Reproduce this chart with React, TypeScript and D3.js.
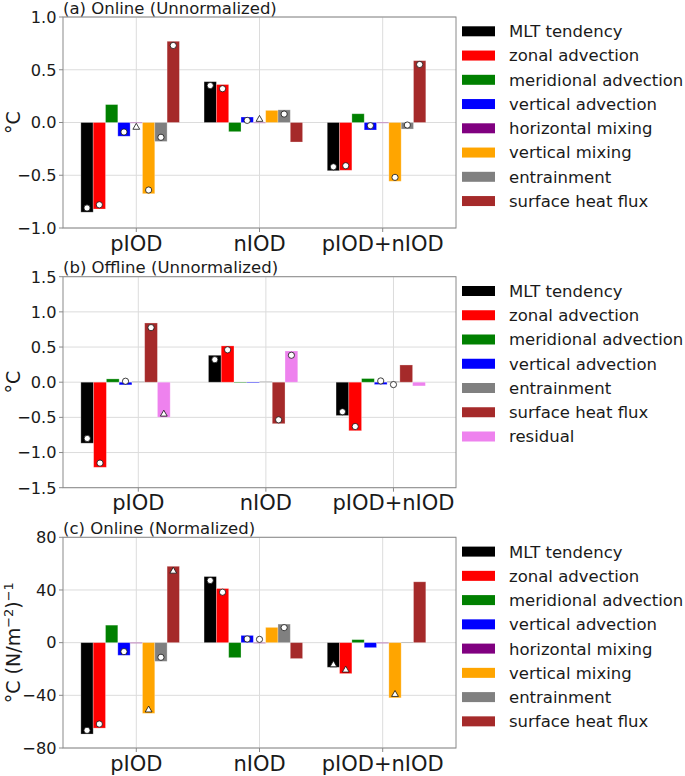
import React from "react";
import * as d3 from "d3";

const categories = ["pIOD", "nIOD", "pIOD+nIOD"];

const termsOnline = [
  "MLT tendency",
  "zonal advection",
  "meridional advection",
  "vertical advection",
  "horizontal mixing",
  "vertical mixing",
  "entrainment",
  "surface heat flux",
];
const colorsOnline = ["#000000", "#ff0000", "#008000", "#0000ff", "#800080", "#ffa500", "#808080", "#a52a2a"];

const termsOffline = [
  "MLT tendency",
  "zonal advection",
  "meridional advection",
  "vertical advection",
  "entrainment",
  "surface heat flux",
  "residual",
];
const colorsOffline = ["#000000", "#ff0000", "#008000", "#0000ff", "#808080", "#a52a2a", "#ee82ee"];

// Panel (a): Online (Unnormalized) — one row per term, values across categories
const valuesA = [
  [-0.85, 0.387, -0.457],
  [-0.82, 0.36, -0.453],
  [0.17, -0.087, 0.083],
  [-0.13, 0.052, -0.071],
  [0.0, 0.0, 0.0],
  [-0.675, 0.115, -0.557],
  [-0.18, 0.12, -0.062],
  [0.77, -0.185, 0.586],
];
const markerValuesA = [
  [-0.81, 0.35, -0.42],
  [-0.78, 0.32, -0.41],
  [null, null, null],
  [-0.09, 0.02, -0.03],
  [-0.04, 0.035, null],
  [-0.64, null, -0.52],
  [-0.14, 0.08, -0.024],
  [0.73, null, 0.55],
];
const markerKindsA = [
  ["o", "o", "o"],
  ["o", "o", "o"],
  ["", "", ""],
  ["o", "o", "o"],
  ["^", "^", ""],
  ["o", "", "o"],
  ["o", "o", "o"],
  ["o", "", "o"],
];

// Panel (b): Offline (Unnormalized)
const valuesB = [
  [-0.867, 0.383, -0.474],
  [-1.21, 0.516, -0.69],
  [0.047, -0.004, 0.052],
  [-0.038, 0.003, -0.033],
  [0.01, 0.01, 0.012],
  [0.842, -0.59, 0.245],
  [-0.497, 0.444, -0.053],
];
const markerValuesB = [
  [-0.8, 0.32, -0.42],
  [-1.15, 0.46, -0.63],
  [null, null, null],
  [0.014, null, 0.018],
  [null, null, -0.034],
  [0.776, -0.535, null],
  [-0.446, 0.383, null],
];
const markerKindsB = [
  ["o", "o", "o"],
  ["o", "o", "o"],
  ["", "", ""],
  ["o", "", "o"],
  ["", "", "o"],
  ["o", "o", ""],
  ["^", "o", ""],
];

// Panel (c): Online (Normalized)
const valuesC = [
  [-69.4, 50.2, -18.7],
  [-64.9, 41.1, -23.5],
  [13.3, -11.4, 2.3],
  [-9.6, 5.5, -3.8],
  [0.0, 0.0, 0.0],
  [-53.7, 11.6, -41.9],
  [-14.2, 14.1, 0.5],
  [58.0, -12.1, 46.2],
];
const markerValuesC = [
  [-66.6, 47.2, -16.4],
  [-61.8, 38.3, -20.4],
  [null, null, null],
  [-6.8, 2.8, null],
  [null, 2.5, null],
  [-50.7, null, -38.9],
  [-11.1, 11.4, null],
  [54.7, null, null],
];
const markerKindsC = [
  ["o", "o", "^"],
  ["o", "o", "^"],
  ["", "", ""],
  ["o", "o", ""],
  ["", "o", ""],
  ["^", "", "^"],
  ["o", "o", ""],
  ["^", "", ""],
];

const ticksA = [-1.0, -0.5, 0.0, 0.5, 1.0];
const ticksB = [-1.5, -1.0, -0.5, 0.0, 0.5, 1.0, 1.5];
const ticksC = [-80, -40, 0, 40, 80];

const FONT = "DejaVu Sans";
const AX_LEFT = 63;
const AX_RIGHT = 456;
const GRID = "#dcdcdc";
const SPINE = "#8a8a8a";
const TEXT = "#1a1a1a";

type PanelProps = {
  top: number;
  bottom: number;
  domain: [number, number];
  ticks: number[];
  fmt: (v: number) => string;
  terms: string[];
  colors: string[];
  values: number[][];
  markerValues: (number | null)[][];
  markerKinds: string[][];
  title: string;
  ylabel: React.ReactNode;
};

function Panel(p: PanelProps) {
  const n = p.terms.length;
  const width = 0.1;
  const dMin = -0.45;
  const dMax = 2 + (n - 4) * width + width / 2;
  const m = (dMax - dMin) * 0.05;
  const x = d3.scaleLinear().domain([dMin - m, dMax + m]).range([AX_LEFT, AX_RIGHT]);
  const y = d3.scaleLinear().domain(p.domain).range([p.bottom, p.top]);
  const midY = (p.top + p.bottom) / 2;

  const bars: React.ReactNode[] = [];
  const marks: React.ReactNode[] = [];
  p.values.forEach((row, k) => {
    row.forEach((v, ci) => {
      const cx = ci + (k - 4) * width;
      const x0 = x(cx - width / 2);
      const x1 = x(cx + width / 2);
      const y0 = y(Math.max(0, v));
      const y1 = y(Math.min(0, v));
      bars.push(
        <rect
          key={`b${k}-${ci}`}
          x={x0}
          y={y0}
          width={x1 - x0}
          height={Math.max(y1 - y0, 0.6)}
          fill={p.colors[k]}
          stroke="#ffffff"
          strokeOpacity={0.35}
          strokeWidth={0.8}
        />
      );
      const mv = p.markerValues[k][ci];
      const kind = p.markerKinds[k][ci];
      if (mv !== null && kind) {
        const mx = x(cx);
        const my = y(mv);
        if (kind === "o") {
          marks.push(
            <circle key={`m${k}-${ci}`} cx={mx} cy={my} r={3.1} fill="#fff" stroke="#111" strokeWidth={0.8} />
          );
        } else {
          const s = 3.4;
          marks.push(
            <path
              key={`m${k}-${ci}`}
              d={`M${mx},${my - s} L${mx + s},${my + s * 0.75} L${mx - s},${my + s * 0.75} Z`}
              fill="#fff"
              stroke="#111"
              strokeWidth={0.8}
            />
          );
        }
      }
    });
  });

  const legendX = 462;
  const legendY0 = p.top + 14.3;
  const legendStep = 24.25;

  return (
    <g>
      {p.ticks.map((t) => (
        <line key={`gy${t}`} x1={AX_LEFT} x2={AX_RIGHT} y1={y(t)} y2={y(t)} stroke={GRID} strokeWidth={1} />
      ))}
      {categories.map((c, i) => (
        <line key={`gx${c}`} x1={x(i)} x2={x(i)} y1={p.top} y2={p.bottom} stroke={GRID} strokeWidth={1} />
      ))}
      {bars}
      {marks}
      <rect x={AX_LEFT} y={p.top} width={AX_RIGHT - AX_LEFT} height={p.bottom - p.top} fill="none" stroke={SPINE} strokeWidth={1} />
      {p.ticks.map((t) => (
        <g key={`ty${t}`}>
          <line x1={AX_LEFT - 4} x2={AX_LEFT} y1={y(t)} y2={y(t)} stroke={SPINE} strokeWidth={1} />
          <text x={AX_LEFT - 6.5} y={y(t)} dy="0.36em" textAnchor="end" fontSize={16.2} fill={TEXT} fontFamily={FONT}>
            {p.fmt(t)}
          </text>
        </g>
      ))}
      {categories.map((c, i) => (
        <g key={`tx${c}`}>
          <line x1={x(i)} x2={x(i)} y1={p.bottom} y2={p.bottom + 4} stroke={SPINE} strokeWidth={1} />
          <text x={x(i)} y={p.bottom + 22.5} textAnchor="middle" fontSize={21} fill={TEXT} fontFamily={FONT}>
            {c}
          </text>
        </g>
      ))}
      <text x={AX_LEFT} y={p.top - 3.5} fontSize={16.5} fill={TEXT} fontFamily={FONT}>
        {p.title}
      </text>
      <text
        transform={`translate(20,${midY}) rotate(-90)`}
        textAnchor="middle"
        fontSize={19}
        fill={TEXT}
        fontFamily={FONT}
      >
        {p.ylabel}
      </text>
      {p.terms.map((t, k) => (
        <g key={`lg${t}`}>
          <rect x={legendX} y={legendY0 + k * legendStep - 5} width={33} height={10} fill={p.colors[k]} />
          <text x={509} y={legendY0 + k * legendStep} dy="0.36em" fontSize={16.5} fill={TEXT} fontFamily={FONT}>
            {t}
          </text>
        </g>
      ))}
    </g>
  );
}

const fmt1 = (v: number) => d3.format(".1f")(v).replace("-", "\u2212");
const fmt0 = (v: number) => d3.format("d")(v).replace("-", "\u2212");

export default function App() {
  return (
    <svg
      width={685}
      height={776}
      style={{ position: "absolute", left: 0, top: 0, background: "#fff" }}
      fontFamily={FONT}
    >
      <rect x={0} y={0} width={685} height={776} fill="#fff" />
      <Panel
        top={17}
        bottom={228}
        domain={[-1, 1]}
        ticks={ticksA}
        fmt={fmt1}
        terms={termsOnline}
        colors={colorsOnline}
        values={valuesA}
        markerValues={markerValuesA}
        markerKinds={markerKindsA}
        title="(a) Online (Unnormalized)"
        ylabel="°C"
      />
      <Panel
        top={276.7}
        bottom={487.7}
        domain={[-1.5, 1.5]}
        ticks={ticksB}
        fmt={fmt1}
        terms={termsOffline}
        colors={colorsOffline}
        values={valuesB}
        markerValues={markerValuesB}
        markerKinds={markerKindsB}
        title="(b) Offline (Unnormalized)"
        ylabel="°C"
      />
      <Panel
        top={537.3}
        bottom={748}
        domain={[-80, 80]}
        ticks={ticksC}
        fmt={fmt0}
        terms={termsOnline}
        colors={colorsOnline}
        values={valuesC}
        markerValues={markerValuesC}
        markerKinds={markerKindsC}
        title="(c) Online (Normalized)"
        ylabel={
          <>
            °C (N/m
            <tspan dy={-7} fontSize={13}>
              −2
            </tspan>
            <tspan dy={7}>)</tspan>
            <tspan dy={-7} fontSize={13}>
              −1
            </tspan>
          </>
        }
      />
    </svg>
  );
}
